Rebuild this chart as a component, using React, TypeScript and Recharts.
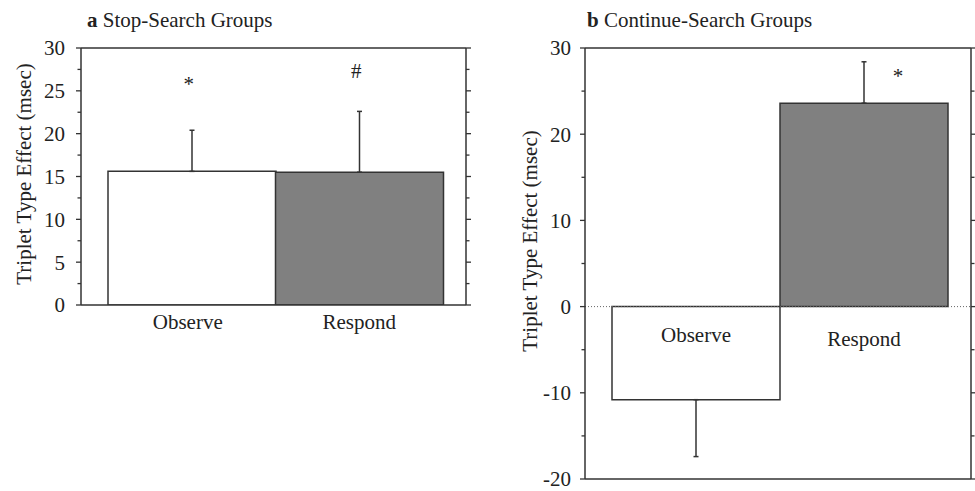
import React from "react";
import {
  BarChart, Bar, XAxis, YAxis, ErrorBar, ReferenceLine, ReferenceDot, Cell,
} from "recharts";

const groups = ["Observe", "Respond"];
const barFills = ["#ffffff", "#808080"];

// a: Stop-Search Groups
const stopMean = [15.6, 15.5];
const stopSem = [4.8, 7.1];
const stopMark = ["*", "#"];
const stopMarkAt = [25.8, 27.3];
const stopTicks = [0, 2.5, 5, 7.5, 10, 12.5, 15, 17.5, 20, 22.5, 25, 27.5, 30];

// b: Continue-Search Groups
const contMean = [-10.8, 23.6];
const contSem = [6.6, 4.8];
const contMark = ["", "*"];
const contMarkAt = [0, 26.7];
const contTicks = [-20, -15, -10, -5, 0, 5, 10, 15, 20, 25, 30];

const FONT = '"Liberation Serif", "Times New Roman", Times, serif';
const INK = "#222";
const LINE = "#333";
const FS = 21;

// error bars only point away from zero
function buildRows(means: number[], sems: number[], marks: string[], markAt: number[]) {
  return groups.map((g, i) => ({
    group: g,
    mean: means[i],
    err: means[i] >= 0 ? [0, sems[i]] : [sems[i], 0],
    mark: marks[i],
    markAt: markAt[i],
  }));
}

const stopRows = buildRows(stopMean, stopSem, stopMark, stopMarkAt);
const contRows = buildRows(contMean, contSem, contMark, contMarkAt);

const yTick = (side: "left" | "right", major: number, gap: number) => (props: any) => {
  const { x, y, payload } = props;
  const v = payload.value;
  const isMajor = Math.abs(v % major) < 1e-6;
  const len = isMajor ? 5 : 3.5;
  const d = side === "left" ? -1 : 1;
  return (
    <g>
      <line x1={x} x2={x + d * len} y1={y} y2={y} stroke={LINE} strokeWidth={1.3} />
      {side === "left" && isMajor && (
        <text x={x - gap} y={y} dy="0.35em" textAnchor="end" fontSize={FS} fontFamily={FONT} fill={INK}>
          {v}
        </text>
      )}
    </g>
  );
};

const xTick = (dxs: number[], dys: number[]) => (props: any) => {
  const { x, y, payload, index } = props;
  return (
    <text x={x + dxs[index]} y={y + dys[index]} textAnchor="middle" fontSize={FS} fontFamily={FONT} fill={INK}>
      {payload.value}
    </text>
  );
};

const yTitle = (cx: number, shift: number) => (props: any) => {
  const vb = props.viewBox;
  const cy = vb.y + vb.height / 2 + shift;
  return (
    <text
      x={cx} y={cy} transform={`rotate(-90 ${cx} ${cy})`}
      textAnchor="middle" dominantBaseline="central"
      fontSize={FS} fontFamily={FONT} fill={INK}
    >
      Triplet Type Effect (msec)
    </text>
  );
};

const sigLabel = (text: string, dx: number) => (props: any) => {
  const vb = props.viewBox;
  const cx = vb.x + (vb.width || 0) / 2 + dx;
  const cy = vb.y + (vb.height || 0) / 2;
  return (
    <text x={cx} y={cy} textAnchor="middle" dominantBaseline="central" fontSize={FS} fontFamily={FONT} fill={INK}>
      {text}
    </text>
  );
};

const axisStroke = { stroke: LINE, strokeWidth: 1.5 };

function Panel({
  rows, ticks, major, width, height, margin, yWidth, rWidth, xHeight, gap,
  titleX, titleShift, xDx, xDy, markDx, zeroLine,
}: any) {
  const domain = [ticks[0], ticks[ticks.length - 1]];
  return (
    <BarChart width={width} height={height} data={rows} margin={margin} barCategoryGap={0}>
      <XAxis
        xAxisId="top" orientation="top" type="number" domain={[0, 2]} ticks={[1]}
        allowDataOverflow height={1} tick={false} tickSize={4}
        axisLine={axisStroke} tickLine={{ stroke: LINE, strokeWidth: 1.3 }}
      />
      <XAxis
        dataKey="group" padding={{ left: 27, right: 23 }} height={xHeight}
        interval={0} tickLine={false} tickSize={0} tickMargin={0}
        axisLine={axisStroke} tick={xTick(xDx, xDy)}
      />
      <YAxis
        yAxisId="left" domain={domain} ticks={ticks} interval={0} allowDataOverflow
        width={yWidth} tickSize={0} tickMargin={0} tickLine={false}
        axisLine={axisStroke} tick={yTick("left", major, gap)}
        label={{ content: yTitle(titleX, titleShift) }}
      />
      <YAxis
        yAxisId="right" orientation="right" domain={domain} ticks={ticks} interval={0} allowDataOverflow
        width={rWidth} tickSize={0} tickMargin={0} tickLine={false}
        axisLine={axisStroke} tick={yTick("right", major, 0)}
      />
      {zeroLine && (
        <ReferenceLine yAxisId="left" y={0} stroke="#666" strokeWidth={1} strokeDasharray="1 2" />
      )}
      <Bar yAxisId="left" dataKey="mean" stroke={LINE} strokeWidth={1.5} isAnimationActive={false}>
        {rows.map((r: any, i: number) => (
          <Cell key={r.group} fill={barFills[i]} />
        ))}
        <ErrorBar dataKey="err" width={2.5} stroke={LINE} strokeWidth={1.5} direction="y" isAnimationActive={false} />
      </Bar>
      {rows.map((r: any, i: number) =>
        r.mark ? (
          <ReferenceDot
            key={"m" + i} yAxisId="left" x={r.group} y={r.markAt} r={0}
            fill="none" stroke="none" label={sigLabel(r.mark, markDx[i])}
          />
        ) : null
      )}
    </BarChart>
  );
}

export default function App() {
  return (
    <div style={{ position: "absolute", left: 0, top: 0, width: 975, height: 491, background: "#fff" }}>
      <svg width={975} height={491} style={{ position: "absolute", left: 0, top: 0 }}>
        <text x={87} y={27} fontSize={FS} fontFamily={FONT} fill={INK}>
          <tspan fontWeight="bold">a</tspan> Stop-Search Groups
        </text>
        <text x={587} y={27} fontSize={FS} fontFamily={FONT} fill={INK}>
          <tspan fontWeight="bold">b</tspan> Continue-Search Groups
        </text>
      </svg>
      <div style={{ position: "absolute", left: 0, top: 0 }}>
        <Panel
          rows={stopRows} ticks={stopTicks} major={5}
          width={490} height={340} margin={{ top: 47, right: 14, bottom: 5, left: 0 }}
          yWidth={81} rWidth={10} xHeight={30} gap={16}
          titleX={24} titleShift={-2.5}
          xDx={[-4, 0]} xDy={[24, 24]} markDx={[-3, -3]} zeroLine={false}
        />
      </div>
      <div style={{ position: "absolute", left: 490, top: 0 }}>
        <Panel
          rows={contRows} ticks={contTicks} major={10}
          width={485} height={491} margin={{ top: 47, right: 0, bottom: 0, left: 0 }}
          yWidth={95} rWidth={4} xHeight={12} gap={14}
          titleX={40} titleShift={-22.5}
          xDx={[0, 0]} xDy={[-137, -133]} markDx={[0, 34]} zeroLine={true}
        />
      </div>
    </div>
  );
}
